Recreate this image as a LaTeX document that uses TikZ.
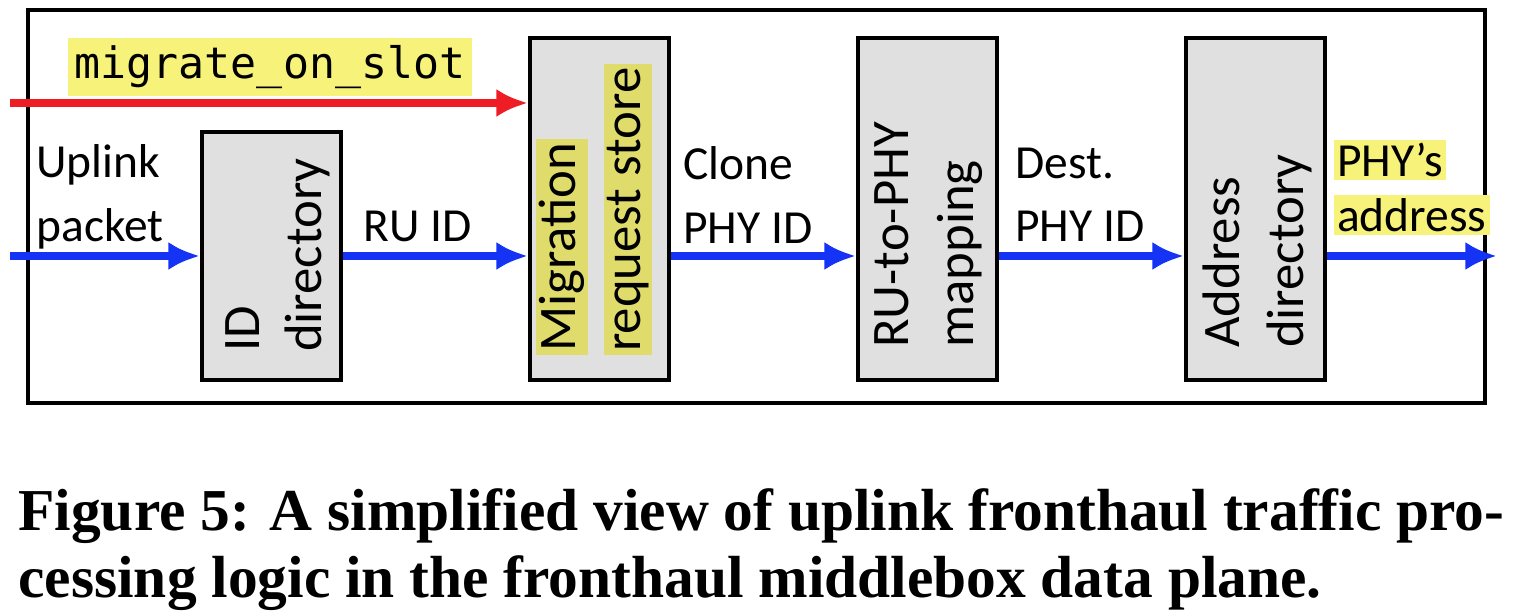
\documentclass[tikz,border=0pt]{standalone}
\usepackage{fontspec}
\setsansfont{Carlito}
\setmainfont{Liberation Serif}
\setmonofont{DejaVu Sans Mono}
\usetikzlibrary{arrows.meta, positioning}
\definecolor{boxgray}{HTML}{E0E0E0}
\definecolor{hlyellow}{HTML}{F7F279}
\definecolor{hlboxyellow}{HTML}{E0DC6C}
\definecolor{flowblue}{HTML}{1433F5}
\definecolor{flowred}{HTML}{EE1C25}
\begin{document}
\begin{tikzpicture}[x=0.01cm, y=-0.01cm,
    block/.style={rectangle, fill=boxgray, draw=black, line width=1pt,
                  minimum width=1.39cm, anchor=north west},
    vtext/.style={rotate=90, anchor=west, font=\sffamily\fontsize{15}{17}\selectfont,
                  inner sep=1pt},
    lbl/.style={font=\sffamily\fontsize{13.5}{18}\selectfont, align=left},
    flow/.style={-{Latex[length=9pt, width=8pt]}, flowblue, line width=2.2pt}
  ]
    \useasboundingbox (0,0) rectangle (1516,616);
    % Outer frame
    \draw[line width=1.4pt] (28,10) rectangle (1485,403);
    % Processing blocks
    \node[block, minimum height=2.48cm] (iddir) at (200,130) {};
    \node[block, minimum height=3.42cm] (store) at (528,36) {};
    \node[block, minimum height=3.42cm] (map)   at (856,36) {};
    \node[block, minimum height=3.42cm] (addr)  at (1184,36) {};
    % Block texts
    \node[vtext] (iddirA) at (243,356) {ID};
    \node[vtext] (iddirB) at (307,356) {directory};
    \node[vtext, fill=hlboxyellow] (storeA) at (562,356) {Migration};
    \node[vtext, fill=hlboxyellow] (storeB) at (628,356) {request store};
    \node[vtext] (mapA) at (892,352) {RU-to-PHY};
    \node[vtext] (mapB) at (960,352) {mapping};
    \node[vtext] (addrA) at (1221,352) {Address};
    \node[vtext] (addrB) at (1289,352) {directory};
    % Labels
    \node[fill=hlyellow, inner sep=2pt, font=\ttfamily\fontsize{12.3}{14}\selectfont]
      (slot) at (270,67) {migrate\_on\_slot};
    \node[lbl] (uplink) at (100,197) {Uplink\\packet};
    \node[lbl] (ruid)   at (418,226) {RU ID};
    \node[lbl] (clone)  at (748,195) {Clone\\PHY ID};
    \node[lbl] (dest)   at (1080,195) {Dest.\\PHY ID};
    \node[lbl, fill=hlyellow, inner sep=1pt, anchor=west] (phyA) at (1333,160) {PHY’s};
    \node[lbl, fill=hlyellow, inner sep=1pt, anchor=west] (phyB) at (1333,215) {address};
    % Flow ends
    \coordinate (redin)  at (10,103);
    \coordinate (bluein) at (10,256);
    \coordinate (blueout) at (1497,256);
    % Connectors
    \draw[flow, flowred] (redin) -- (store.west |- redin);
    \draw[flow] (bluein) -- (iddir.west |- bluein);
    \draw[flow] (iddir.east |- bluein) -- (store.west |- bluein);
    \draw[flow] (store.east |- bluein) -- (map.west |- bluein);
    \draw[flow] (map.east |- bluein) -- (addr.west |- bluein);
    \draw[flow] (addr.east |- bluein) -- (blueout);
    % Caption
    \node[font=\bfseries\fontsize{16.9}{19}\selectfont, align=left, anchor=north west]
      (caption) at (6,476)
      {Figure 5: A simplified view of uplink fronthaul traffic pro-\\
       cessing logic in the fronthaul middlebox data plane.};
\end{tikzpicture}
\end{document}
